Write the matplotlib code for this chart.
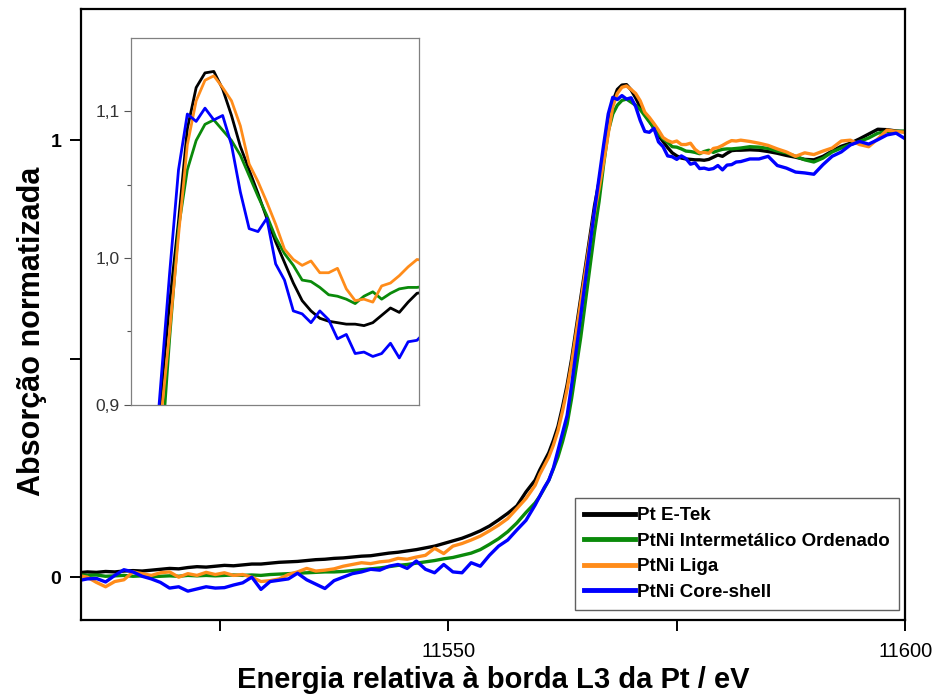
import numpy as np
import matplotlib
matplotlib.use("Agg")
import matplotlib.pyplot as plt
from matplotlib.ticker import FixedLocator

plt.rcParams['font.family'] = ['Liberation Sans', 'DejaVu Sans']

# energy grid (eV): coarse pre-edge, fine edge/white line, coarse EXAFS tail
energy = np.concatenate([
    np.arange(11509.5, 11560.0, 1.0),
    np.arange(11560.0, 11582.01, 0.5),
    np.arange(11583.0, 11600.01, 1.0),
])

labels = ["Pt E-Tek", "PtNi Intermetálico Ordenado", "PtNi Liga", "PtNi Core-shell"]
colors = ["#000000", "#0a8a0a", "#ff8c1a", "#0000ff"]

pt_etek = [
    0.010, 0.012, 0.011, 0.013, 0.012, 0.014, 0.015, 0.014, 0.016, 0.018,
    0.020, 0.019, 0.022, 0.024, 0.023, 0.025, 0.027, 0.026, 0.028, 0.030,
    0.030, 0.032, 0.034, 0.035, 0.036, 0.038, 0.040, 0.041, 0.043, 0.044,
    0.046, 0.048, 0.049, 0.052, 0.055, 0.057, 0.060, 0.063, 0.067, 0.071,
    0.077, 0.083, 0.089, 0.097, 0.106, 0.117, 0.131, 0.146, 0.163, 0.195,
    0.222,
    0.245, 0.265, 0.285, 0.313, 0.345, 0.390, 0.440, 0.500, 0.570, 0.640,
    0.710, 0.780, 0.850, 0.905, 0.970, 1.025, 1.088, 1.116, 1.126, 1.127,
    1.115, 1.097, 1.076, 1.060, 1.044, 1.027, 1.011, 0.997, 0.983, 0.971,
    0.964, 0.959, 0.957, 0.956, 0.955, 0.955, 0.954, 0.956, 0.961, 0.966,
    0.963, 0.970, 0.976, 0.977, 0.977,
    0.978, 0.977, 0.974, 0.970, 0.965, 0.961, 0.956, 0.955, 0.963, 0.975,
    0.986, 0.993, 1.003, 1.014, 1.025, 1.024, 1.021, 1.019,
]

ptni_inter = [
    0.006, 0.004, 0.005, 0.002, 0.003, 0.004, 0.002, 0.003, 0.001, 0.002,
    0.003, 0.002, 0.004, 0.003, 0.004, 0.003, 0.004, 0.005, 0.004, 0.005,
    0.004, 0.006, 0.007, 0.008, 0.009, 0.010, 0.011, 0.012, 0.012, 0.013,
    0.015, 0.017, 0.019, 0.021, 0.024, 0.027, 0.029, 0.032, 0.035, 0.038,
    0.042, 0.045, 0.050, 0.055, 0.063, 0.075, 0.088, 0.104, 0.124, 0.148,
    0.170,
    0.185, 0.203, 0.222, 0.248, 0.275, 0.310, 0.350, 0.410, 0.480, 0.550,
    0.630, 0.710, 0.790, 0.860, 0.945, 1.020, 1.060, 1.080, 1.091, 1.094,
    1.087, 1.080, 1.070, 1.056, 1.042, 1.029, 1.014, 1.003, 0.995, 0.985,
    0.984, 0.980, 0.975, 0.974, 0.972, 0.969, 0.974, 0.977, 0.972, 0.976,
    0.979, 0.980, 0.980, 0.981, 0.982,
    0.985, 0.984, 0.981, 0.975, 0.971, 0.963, 0.955, 0.950, 0.959, 0.973,
    0.982, 0.990, 0.997, 1.005, 1.016, 1.020, 1.020, 1.021,
]

ptni_liga = [
    0.004, 0.000, -0.012, -0.022, -0.010, -0.006, 0.012, 0.008, 0.004, 0.010,
    0.012, 0.000, 0.008, 0.004, 0.011, 0.006, 0.010, 0.004, 0.006, 0.000,
    -0.010, -0.008, -0.004, 0.006, 0.012, 0.020, 0.014, 0.016, 0.019, 0.025,
    0.029, 0.033, 0.031, 0.035, 0.037, 0.043, 0.041, 0.046, 0.050, 0.066,
    0.054, 0.071, 0.077, 0.085, 0.094, 0.106, 0.119, 0.134, 0.157, 0.180,
    0.210,
    0.235, 0.255, 0.275, 0.302, 0.335, 0.380, 0.430, 0.490, 0.560, 0.630,
    0.700, 0.770, 0.835, 0.890, 0.950, 1.015, 1.077, 1.107, 1.121, 1.124,
    1.116, 1.107, 1.090, 1.064, 1.052, 1.038, 1.023, 1.006, 0.999, 0.995,
    0.998, 0.990, 0.990, 0.993, 0.979, 0.971, 0.972, 0.970, 0.981, 0.983,
    0.988, 0.994, 0.999, 0.998, 1.000,
    0.997, 0.993, 0.988, 0.980, 0.973, 0.963, 0.971, 0.967, 0.975, 0.982,
    0.998, 1.000, 0.990, 0.985, 1.003, 1.023, 1.020, 1.018,
]

ptni_core = [
    -0.008, -0.004, -0.003, -0.011, 0.004, 0.017, 0.012, 0.002, -0.004, -0.012,
    -0.025, -0.022, -0.032, -0.027, -0.022, -0.025, -0.024, -0.018, -0.013, 0.000,
    -0.028, -0.010, -0.007, -0.004, 0.009, -0.006, -0.016, -0.026, -0.008, 0.000,
    0.008, 0.012, 0.018, 0.016, 0.025, 0.029, 0.020, 0.037, 0.018, 0.010,
    0.029, 0.012, 0.010, 0.033, 0.025, 0.050, 0.071, 0.085, 0.108, 0.130,
    0.165,
    0.185, 0.205, 0.222, 0.250, 0.290, 0.330, 0.370, 0.440, 0.520, 0.600,
    0.680, 0.760, 0.840, 0.915, 0.990, 1.060, 1.098, 1.093, 1.102, 1.094,
    1.097, 1.077, 1.045, 1.020, 1.018, 1.027, 0.996, 0.985, 0.964, 0.962,
    0.956, 0.964, 0.958, 0.945, 0.948, 0.935, 0.936, 0.933, 0.935, 0.942,
    0.932, 0.943, 0.944, 0.950, 0.951,
    0.957, 0.957, 0.963, 0.942, 0.936, 0.927, 0.925, 0.922, 0.944, 0.963,
    0.973, 0.989, 0.997, 0.991, 1.001, 1.012, 1.016, 1.003,
]

series = [pt_etek, ptni_inter, ptni_liga, ptni_core]

fig = plt.figure(figsize=(9.41, 6.97), dpi=100)
ax = fig.add_axes([0.086, 0.1105, 0.876, 0.8765])

for y, c, lab in zip(series, colors, labels):
    ax.plot(energy, y, color=c, lw=2.4, label=lab)

ax.set_xlim(11509.8, 11600)
ax.set_ylim(-0.098, 1.30)
ax.xaxis.set_major_locator(FixedLocator([11550, 11600]))
ax.xaxis.set_minor_locator(FixedLocator([11525, 11575]))
ax.yaxis.set_major_locator(FixedLocator([0, 1]))
ax.yaxis.set_minor_locator(FixedLocator([0.5]))
ax.tick_params(axis='both', which='both', direction='out', width=1.4, length=8,
               top=False, right=False)
ax.tick_params(axis='x', which='major', labelsize=14.5, pad=8)
ax.tick_params(axis='y', which='major', labelsize=14, pad=6)
for t in ax.get_yticklabels():
    t.set_fontweight('bold')
for s in ax.spines.values():
    s.set_linewidth(1.6)

ax.set_xlabel("Energia relativa à borda L3 da Pt / eV", fontsize=21, fontweight='bold')
ax.xaxis.set_label_coords(0.5, -0.075)
ax.set_ylabel("Absorção normatizada", fontsize=22, fontweight='bold')
ax.yaxis.set_label_coords(-0.041, 0.473)

leg = ax.legend(loc='lower right', bbox_to_anchor=(0.993, 0.016), borderaxespad=0,
                prop={'weight': 'bold', 'size': 13.5}, handlelength=2.7, handletextpad=0.15,
                labelspacing=0.45, borderpad=0.5, fancybox=False, framealpha=1,
                edgecolor='#606060')
leg.get_frame().set_linewidth(1.0)
for line in leg.get_lines():
    line.set_linewidth(3.5)

# inset: zoom on the white line
axin = fig.add_axes([0.139, 0.419, 0.306, 0.527])
for y, c in zip(series, colors):
    axin.plot(energy, y, color=c, lw=2.0)
axin.set_xlim(11564.8, 11581.1)
axin.set_ylim(0.9, 1.15)
axin.xaxis.set_major_locator(FixedLocator([]))
axin.yaxis.set_major_locator(FixedLocator([0.9, 1.0, 1.1]))
axin.yaxis.set_minor_locator(FixedLocator([0.95, 1.05]))
axin.set_yticklabels(["0,9", "1,0", "1,1"])
axin.tick_params(axis='y', which='both', direction='out', length=5, width=0.8,
                 colors='#555555', labelsize=12.5, labelcolor='#333333', pad=3)
axin.tick_params(axis='y', which='minor', length=3)
axin.tick_params(axis='x', which='both', bottom=False, labelbottom=False)
for s in axin.spines.values():
    s.set_color('#808080')
    s.set_linewidth(0.9)

fig.savefig("out.png", dpi=100)
